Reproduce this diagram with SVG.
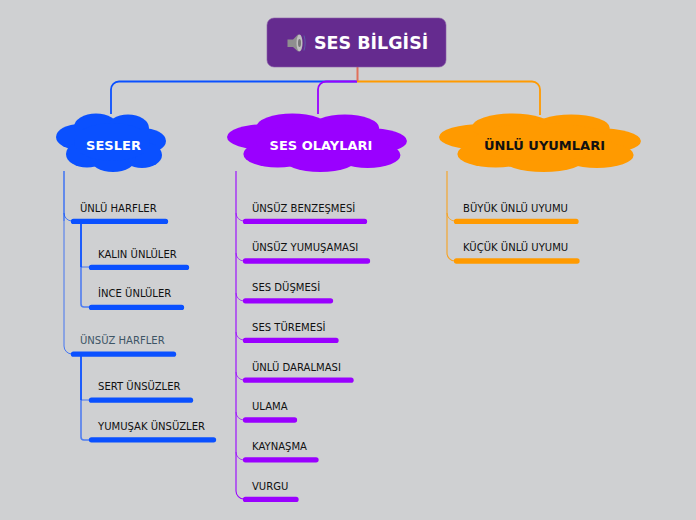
<svg xmlns="http://www.w3.org/2000/svg" width="696" height="520" viewBox="0 0 696 520">
<style>
text{font-family:"DejaVu Sans",Verdana,sans-serif}
.t{font-size:10.050px;fill:#111}
.c{font-size:13px;font-weight:bold;text-anchor:middle}
.e{fill:none;stroke-width:1.800}
.m{fill:none;stroke-width:1.100}
.l{fill:none;stroke-width:1;stroke-opacity:.7}
.s{fill:none;stroke-width:1.600;stroke-opacity:.65}
.bar{stroke-width:5.300;stroke-linecap:round;fill:none}
.blue{stroke:#0a50ff}.pur{stroke:#9a00ff}.org{stroke:#ff9a00}
</style>
<defs>
<g id="cloud">
<ellipse cx="24" cy="24" rx="24" ry="13"/>
<ellipse cx="40" cy="14" rx="22" ry="13.500"/>
<ellipse cx="72" cy="15" rx="21" ry="13.500"/>
<ellipse cx="86" cy="28" rx="24" ry="13"/>
<ellipse cx="86" cy="42" rx="20" ry="13"/>
<ellipse cx="31" cy="41" rx="21" ry="13.500"/>
<ellipse cx="57" cy="45" rx="23" ry="14"/>
<ellipse cx="56" cy="29" rx="38" ry="19"/>
</g>
</defs>
<rect width="696" height="520" fill="#cfd0d2"/>
<g id="connectors">
<path class="e blue" d="M357 81.500H119a8 8 0 0 0-8 8V114"/>
<path class="e pur" d="M357 81.500H326a8 8 0 0 0-8 8V114"/>
<path class="e org" d="M357 81.500H532a8 8 0 0 1 8 8V115"/>
<path d="M357.500 67V81" fill="none" stroke="#e0705a" stroke-width="2"/>
<path class="m blue" d="M64 171V221"/>
<path class="l blue" d="M64 221V346a8 8 0 0 0 8 8"/>
<path class="l blue" d="M64 213a8 8 0 0 0 8 8"/>
<path class="e blue" d="M81 223V267"/>
<path class="s blue" d="M81 267V304a3 3 0 0 0 3 3H89"/>
<path class="l blue" d="M81 267H89"/>
<path class="e blue" d="M81 356V400"/>
<path class="s blue" d="M81 400V437a3 3 0 0 0 3 3H89"/>
<path class="l blue" d="M81 400H89"/>
<path class="m pur" d="M236 171V491a8 8 0 0 0 8 8"/>
<path class="l pur" d="M236 213a8 8 0 0 0 8 8M236 253a8 8 0 0 0 8 8M236 293a8 8 0 0 0 8 8M236 332a8 8 0 0 0 8 8M236 372a8 8 0 0 0 8 8M236 412a8 8 0 0 0 8 8M236 452a8 8 0 0 0 8 8"/>
<path class="m org" stroke-opacity=".85" d="M447 171V253a8 8 0 0 0 8 8"/>
<path class="l org" d="M447 213a8 8 0 0 0 8 8"/>
</g>
<g id="root">
<rect x="267" y="18" width="179" height="49" rx="7" fill="#652b8f" stroke="#8a5aa8" stroke-width=".6"/>
<g id="speaker-icon">
<path d="M298 34.500C300 34 301 38 301 43S300 52 298 51.500L293 47H287.500V39.500H293Z" fill="#8f8f8f"/>
<ellipse cx="299.500" cy="43" rx="3" ry="8.500" fill="#c0c0c0"/>
<ellipse cx="299.500" cy="43" rx="1.500" ry="4" fill="#777"/>
<path d="M304 35.500C305.500 40 305.500 46 304 50.500" fill="none" stroke="#5c5ea6" stroke-width="1"/>
</g>
<text x="314" y="48.500" font-size="17.500" font-weight="bold" fill="#fff">SES BİLGİSİ</text>
</g>
<g id="sesler">
<use href="#cloud" transform="translate(56 113)" fill="#0a50ff"/>
<text class="c" x="113.500" y="150" fill="#fff">SESLER</text>
</g>
<g id="ses-olaylari">
<use href="#cloud" transform="translate(227 113) scale(1.636 1)" fill="#9a00ff"/>
<text class="c" x="321" y="150" fill="#fff">SES OLAYLARI</text>
</g>
<g id="unlu-uyumlari">
<use href="#cloud" transform="translate(439 113) scale(1.836 1)" fill="#ff9a00"/>
<text class="c" x="544.500" y="150" fill="#111">ÜNLÜ UYUMLARI</text>
</g>
<g id="unlu-harfler"><path class="bar blue" d="M73.500 221.400H165.500"/><text class="t" x="80" y="212">ÜNLÜ HARFLER</text></g>
<g id="kalin-unluler"><path class="bar blue" d="M91.500 267.400H186.500"/><text class="t" x="98" y="258">KALIN ÜNLÜLER</text></g>
<g id="ince-unluler"><path class="bar blue" d="M91.500 307.400H181.500"/><text class="t" x="98" y="297">İNCE ÜNLÜLER</text></g>
<g id="unsuz-harfler"><path class="bar blue" d="M73.500 354.200H173.500"/><text class="t" x="80" y="344" style="fill:#3d5566">ÜNSÜZ HARFLER</text></g>
<g id="sert-unsuzler"><path class="bar blue" d="M91.500 400.200H190.500"/><text class="t" x="98" y="390">SERT ÜNSÜZLER</text></g>
<g id="yumusak-unsuzler"><path class="bar blue" d="M91.500 439.800H213.500"/><text class="t" x="98" y="430">YUMUŞAK ÜNSÜZLER</text></g>
<g id="unsuz-benzesmesi"><path class="bar pur" d="M245.500 221.400H364.500"/><text class="t" x="252" y="212">ÜNSÜZ BENZEŞMESİ</text></g>
<g id="unsuz-yumusamasi"><path class="bar pur" d="M245.500 261H367.500"/><text class="t" x="252" y="251">ÜNSÜZ YUMUŞAMASI</text></g>
<g id="ses-dusmesi"><path class="bar pur" d="M245.500 300.800H330.500"/><text class="t" x="252" y="291">SES DÜŞMESİ</text></g>
<g id="ses-turemesi"><path class="bar pur" d="M245.500 340.400H336"/><text class="t" x="252" y="331">SES TÜREMESİ</text></g>
<g id="unlu-daralmasi"><path class="bar pur" d="M245.500 380.200H351"/><text class="t" x="252" y="371">ÜNLÜ DARALMASI</text></g>
<g id="ulama"><path class="bar pur" d="M245.500 420H294.500"/><text class="t" x="252" y="410">ULAMA</text></g>
<g id="kaynasma"><path class="bar pur" d="M245.500 459.800H316"/><text class="t" x="252" y="450">KAYNAŞMA</text></g>
<g id="vurgu"><path class="bar pur" d="M245.500 499.400H296"/><text class="t" x="252" y="490">VURGU</text></g>
<g id="buyuk-unlu-uyumu"><path class="bar org" d="M456.500 221.400H576"/><text class="t" x="463" y="212">BÜYÜK ÜNLÜ UYUMU</text></g>
<g id="kucuk-unlu-uyumu"><path class="bar org" d="M456.500 261H577"/><text class="t" x="463" y="251">KÜÇÜK ÜNLÜ UYUMU</text></g>
</svg>
